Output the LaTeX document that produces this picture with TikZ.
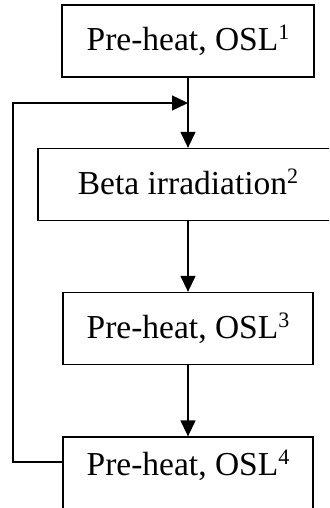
\documentclass[tikz,border=0pt]{standalone}
\usepackage{fontspec}
\setmainfont{Liberation Serif}
\usetikzlibrary{positioning}
\usetikzlibrary{arrows.meta}

\newcommand{\upmark}[1]{\raisebox{11pt}{\fontsize{22}{22}\selectfont #1}}

\begin{document}
\begin{tikzpicture}[x=1pt, y=-1pt, line width=1.3pt,
  box/.style={draw, rectangle, inner sep=0pt, minimum height=72pt,
    text height=26pt, text depth=7pt, font=\fontsize{33.5}{38}\selectfont},
  flow/.style={-{Triangle[length=16pt,width=15pt]}}]
\def\W{329}
\def\H{508}
\def\Cx{188}

\useasboundingbox (0,0) rectangle (\W,\H);
\clip (0,0) rectangle (\W,\H);

\node[box, minimum width=252pt] (heatA) at (\Cx,41) {Pre-heat, OSL\upmark{1}};
\node[box, minimum width=300pt] (beta) at (\Cx,184.5) {Beta irradiation\upmark{2}};
\node[box, minimum width=250pt] (heatB) at (\Cx,328.5) {Pre-heat, OSL\upmark{3}};
\node[box, minimum width=250pt, text depth=21pt] (heatC) at (\Cx,473) {Pre-heat, OSL\upmark{4}};

\coordinate (join) at (\Cx,103);
\coordinate (back) at (13,103);

\draw[flow] (heatA) -- (beta);
\draw[flow] (beta) -- (heatB);
\draw[flow] (heatB) -- (heatC);
\draw[flow] ([yshift=11pt]heatC.west) -| (back) -- (join);
\end{tikzpicture}
\end{document}
